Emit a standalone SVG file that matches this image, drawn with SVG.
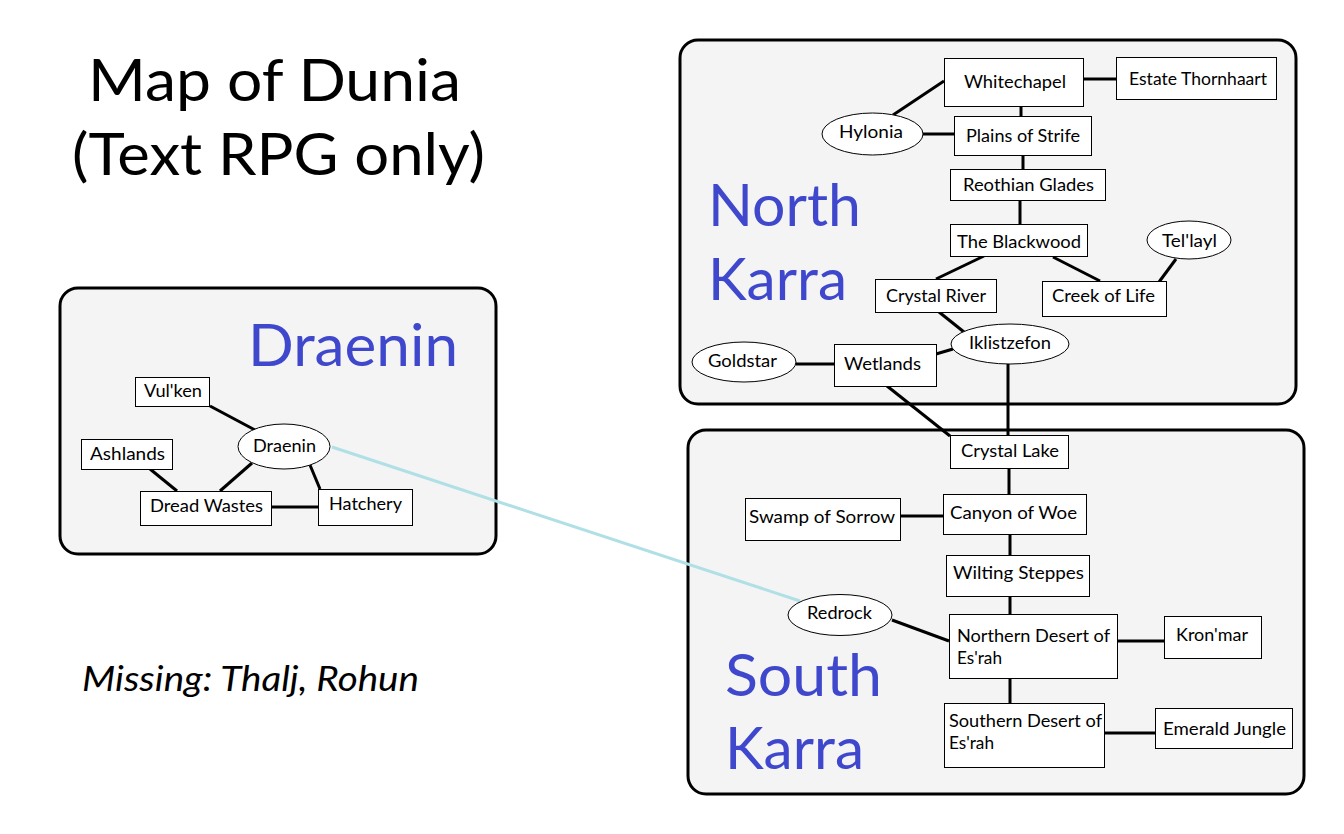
<svg xmlns="http://www.w3.org/2000/svg" width="1344" height="834" viewBox="0 0 1344 834">
<style>
text{font-family:"Lato","Noto Sans","Liberation Sans",sans-serif;fill:#000;font-size:18px}
.panel{fill:#f4f4f4;stroke:#000;stroke-width:3}
.big{font-size:59px}
.region{font-size:59px;fill:#3f48cc}
.note{font-size:35px;font-style:italic}
.box{fill:#fff;stroke:#000;stroke-width:1}
.conn line{stroke:#000;stroke-width:3;fill:none}
.conn line.link{stroke:#b0e0e6}
</style>
<rect width="1344" height="834" fill="#fff"/>
<g id="panels">
<rect class="panel" x="680" y="40" width="616" height="364" rx="18"/>
<rect class="panel" x="688" y="430" width="616" height="364" rx="18"/>
<rect class="panel" x="60" y="288" width="436" height="266" rx="18"/>
</g>
<g id="labels">
<text class="big" x="88" y="101" textLength="373" lengthAdjust="spacingAndGlyphs">Map of Dunia</text>
<text class="big" x="72" y="175" textLength="413" lengthAdjust="spacingAndGlyphs">(Text RPG only)</text>
<text class="note" x="82" y="691" textLength="337" lengthAdjust="spacingAndGlyphs">Missing: Thalj, Rohun</text>
<text class="region" x="708" y="226" textLength="153" lengthAdjust="spacingAndGlyphs">North</text>
<text class="region" x="708" y="300" textLength="139" lengthAdjust="spacingAndGlyphs">Karra</text>
<text class="region" x="725" y="696" textLength="157" lengthAdjust="spacingAndGlyphs">South</text>
<text class="region" x="725" y="769" textLength="139" lengthAdjust="spacingAndGlyphs">Karra</text>
<text class="region" x="248" y="366" textLength="210" lengthAdjust="spacingAndGlyphs">Draenin</text>
</g>
<g id="connectors" class="conn">
<line x1="893" y1="115" x2="944" y2="81"/>
<line x1="1083" y1="79" x2="1116" y2="79"/>
<line x1="1021" y1="106" x2="1021" y2="117"/>
<line x1="923" y1="134" x2="954" y2="134"/>
<line x1="1023" y1="155" x2="1023" y2="169"/>
<line x1="1020" y1="200" x2="1020" y2="224"/>
<line x1="984" y1="256" x2="936" y2="279"/>
<line x1="1053" y1="257" x2="1100" y2="281"/>
<line x1="1176" y1="259" x2="1159" y2="282"/>
<line x1="939" y1="312" x2="964" y2="332"/>
<line x1="936" y1="354" x2="953" y2="349"/>
<line x1="796" y1="364" x2="834" y2="364"/>
<line x1="887" y1="386" x2="950" y2="436"/>
<line x1="1008" y1="364" x2="1008" y2="435"/>
<line x1="1009" y1="468" x2="1009" y2="494"/>
<line x1="900" y1="516" x2="943" y2="516"/>
<line x1="1010" y1="534" x2="1010" y2="555"/>
<line x1="1010" y1="596" x2="1010" y2="614"/>
<line x1="892" y1="620" x2="949" y2="641"/>
<line x1="1117" y1="641" x2="1164" y2="641"/>
<line x1="1010" y1="678" x2="1010" y2="703"/>
<line x1="1104" y1="733" x2="1155" y2="733"/>
<line x1="210" y1="406" x2="255" y2="430"/>
<line x1="150" y1="469" x2="177" y2="491"/>
<line x1="252" y1="463" x2="220" y2="491"/>
<line x1="310" y1="465" x2="320" y2="489"/>
<line x1="271" y1="507" x2="318" y2="507"/>
<line class="link" x1="332" y1="447" x2="800" y2="601"/>
</g>
<g id="whitechapel"><rect class="box" x="944.5" y="58.5" width="139" height="48"/><text x="964" y="88" textLength="102" lengthAdjust="spacingAndGlyphs">Whitechapel</text></g>
<g id="estate-thornhaart"><rect class="box" x="1116.5" y="57.5" width="160" height="42"/><text x="1129" y="85" textLength="138" lengthAdjust="spacingAndGlyphs">Estate Thornhaart</text></g>
<g id="hylonia"><ellipse class="box" cx="872.5" cy="134" rx="50.5" ry="21"/><text x="839" y="138" textLength="64" lengthAdjust="spacingAndGlyphs">Hylonia</text></g>
<g id="plains-of-strife"><rect class="box" x="954.5" y="116.5" width="137" height="39"/><text x="966" y="142" textLength="114" lengthAdjust="spacingAndGlyphs">Plains of Strife</text></g>
<g id="reothian-glades"><rect class="box" x="950.5" y="169.5" width="155" height="31"/><text x="963" y="191" textLength="131" lengthAdjust="spacingAndGlyphs">Reothian Glades</text></g>
<g id="the-blackwood"><rect class="box" x="950.5" y="224.5" width="137" height="32"/><text x="957" y="248" textLength="124" lengthAdjust="spacingAndGlyphs">The Blackwood</text></g>
<g id="tellayl"><ellipse class="box" cx="1189" cy="240" rx="42" ry="19"/><text x="1162" y="247" textLength="55" lengthAdjust="spacingAndGlyphs">Tel'layl</text></g>
<g id="crystal-river"><rect class="box" x="875.5" y="279.5" width="121" height="33"/><text x="886" y="302" textLength="100" lengthAdjust="spacingAndGlyphs">Crystal River</text></g>
<g id="creek-of-life"><rect class="box" x="1042.5" y="281.5" width="124" height="35"/><text x="1052" y="302" textLength="103" lengthAdjust="spacingAndGlyphs">Creek of Life</text></g>
<g id="iklistzefon"><ellipse class="box" cx="1010" cy="344" rx="59" ry="20"/><text x="969" y="349" textLength="82" lengthAdjust="spacingAndGlyphs">Iklistzefon</text></g>
<g id="goldstar"><ellipse class="box" cx="744" cy="362" rx="52" ry="20"/><text x="708" y="367" textLength="69" lengthAdjust="spacingAndGlyphs">Goldstar</text></g>
<g id="wetlands"><rect class="box" x="834.5" y="344.5" width="102" height="42"/><text x="844" y="370" textLength="77" lengthAdjust="spacingAndGlyphs">Wetlands</text></g>
<g id="crystal-lake"><rect class="box" x="950.5" y="435.5" width="118" height="33"/><text x="961" y="457" textLength="98" lengthAdjust="spacingAndGlyphs">Crystal Lake</text></g>
<g id="canyon-of-woe"><rect class="box" x="943.5" y="494.5" width="143" height="40"/><text x="950" y="519" textLength="127" lengthAdjust="spacingAndGlyphs">Canyon of Woe</text></g>
<g id="swamp-of-sorrow"><rect class="box" x="745.5" y="498.5" width="155" height="42"/><text x="749" y="523" textLength="146" lengthAdjust="spacingAndGlyphs">Swamp of Sorrow</text></g>
<g id="wilting-steppes"><rect class="box" x="946.5" y="555.5" width="143" height="41"/><text x="953" y="579" textLength="131" lengthAdjust="spacingAndGlyphs">Wilting Steppes</text></g>
<g id="redrock"><ellipse class="box" cx="840" cy="615" rx="52" ry="20.5"/><text x="807" y="619" textLength="65" lengthAdjust="spacingAndGlyphs">Redrock</text></g>
<g id="northern-desert"><rect class="box" x="949.5" y="614.5" width="168" height="64"/><text x="957" y="642" textLength="153" lengthAdjust="spacingAndGlyphs">Northern Desert of</text><text x="957" y="664" textLength="45" lengthAdjust="spacingAndGlyphs">Es'rah</text></g>
<g id="kronmar"><rect class="box" x="1164.5" y="616.5" width="97" height="42"/><text x="1176" y="641" textLength="72" lengthAdjust="spacingAndGlyphs">Kron'mar</text></g>
<g id="southern-desert"><rect class="box" x="944.5" y="703.5" width="160" height="64"/><text x="949" y="727" textLength="153" lengthAdjust="spacingAndGlyphs">Southern Desert of</text><text x="949" y="749" textLength="45" lengthAdjust="spacingAndGlyphs">Es'rah</text></g>
<g id="emerald-jungle"><rect class="box" x="1155.5" y="708.5" width="137" height="40"/><text x="1163" y="735" textLength="123" lengthAdjust="spacingAndGlyphs">Emerald Jungle</text></g>
<g id="vulken"><rect class="box" x="135.5" y="377.5" width="74" height="29"/><text x="144" y="397" textLength="58" lengthAdjust="spacingAndGlyphs">Vul'ken</text></g>
<g id="ashlands"><rect class="box" x="81.5" y="439.5" width="91" height="30"/><text x="90" y="460" textLength="75" lengthAdjust="spacingAndGlyphs">Ashlands</text></g>
<g id="dread-wastes"><rect class="box" x="140.5" y="491.5" width="131" height="34"/><text x="150" y="512" textLength="113" lengthAdjust="spacingAndGlyphs">Dread Wastes</text></g>
<g id="hatchery"><rect class="box" x="318.5" y="489.5" width="94" height="36"/><text x="329" y="510" textLength="73" lengthAdjust="spacingAndGlyphs">Hatchery</text></g>
<g id="draenin"><ellipse class="box" cx="284" cy="446.5" rx="46" ry="22.5"/><text x="253" y="452" textLength="63" lengthAdjust="spacingAndGlyphs">Draenin</text></g>
</svg>
